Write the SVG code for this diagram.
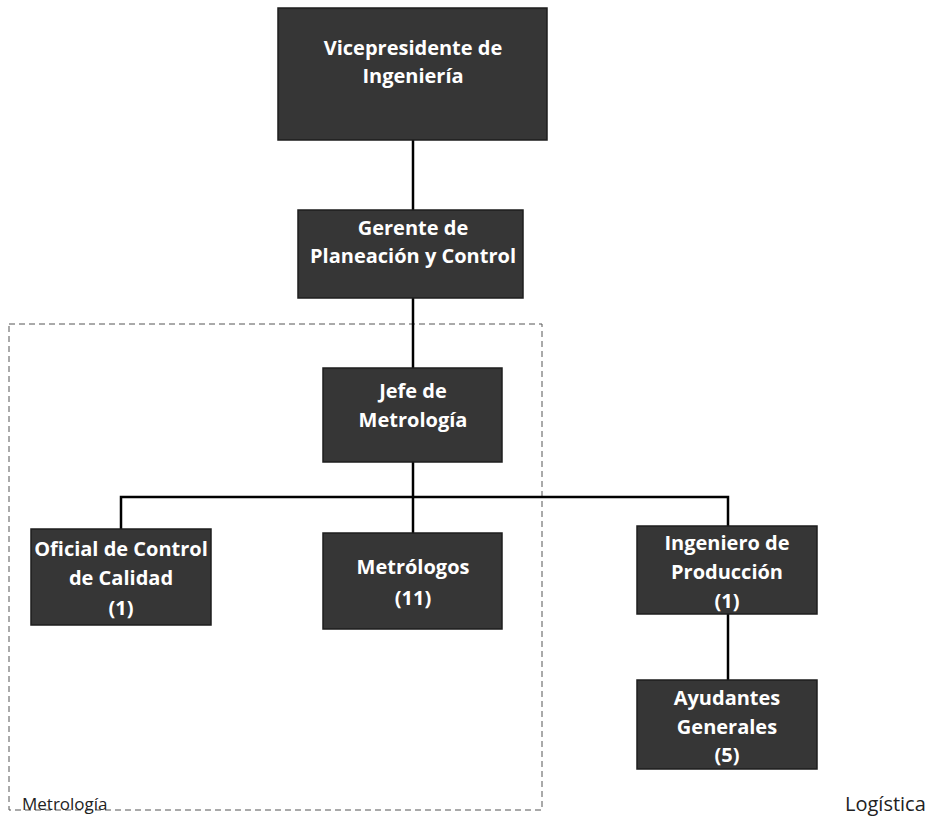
<svg xmlns="http://www.w3.org/2000/svg" width="930" height="816" viewBox="0 0 930 816">
<style>
.box{fill:#363636;stroke:#1e1e1e;stroke-width:1.5}
.t{font-family:"Open Sans","Liberation Sans",sans-serif;font-weight:bold;font-size:20px;fill:#fff;text-anchor:middle}
.c{stroke:#000;stroke-width:2.5;fill:none}
.lbl{font-family:"Open Sans","Liberation Sans",sans-serif;font-size:17px;fill:#222}
</style>
<rect width="930" height="816" fill="#fff"/>
<g id="region-metrologia">
<rect x="9" y="324" width="533" height="486" fill="none" stroke="#555" stroke-width="1" stroke-dasharray="6,4"/>
<text class="lbl" x="22" y="810">Metrología</text>
</g>
<g id="region-logistica">
<text class="lbl" x="845" y="811" style="font-size:20px">Logística</text>
</g>
<g id="connectors">
<line class="c" x1="413" y1="140" x2="413" y2="210"/>
<line class="c" x1="413" y1="298" x2="413" y2="368"/>
<line class="c" x1="413" y1="462" x2="413" y2="533"/>
<polyline class="c" points="121,529 121,497 728,497 728,526"/>
<line class="c" x1="728" y1="614" x2="728" y2="680"/>
</g>
<g id="vicepresidente">
<rect class="box" x="278" y="8" width="269" height="132"/>
<text class="t" x="413" y="55">Vicepresidente de</text>
<text class="t" x="413" y="83">Ingeniería</text>
</g>
<g id="gerente">
<rect class="box" x="298" y="210" width="225" height="88"/>
<text class="t" x="413" y="235">Gerente de</text>
<text class="t" x="413" y="263">Planeación y Control</text>
</g>
<g id="jefe">
<rect class="box" x="323" y="368" width="179" height="94"/>
<text class="t" x="413" y="398">Jefe de</text>
<text class="t" x="413" y="427">Metrología</text>
</g>
<g id="oficial">
<rect class="box" x="31" y="529" width="180" height="96"/>
<text class="t" x="121" y="556">Oficial de Control</text>
<text class="t" x="121" y="585">de Calidad</text>
<text class="t" x="121" y="615">(1)</text>
</g>
<g id="metrologos">
<rect class="box" x="323" y="533" width="179" height="96"/>
<text class="t" x="413" y="574">Metrólogos</text>
<text class="t" x="413" y="605">(11)</text>
</g>
<g id="ingeniero">
<rect class="box" x="637" y="526" width="180" height="88"/>
<text class="t" x="727" y="550">Ingeniero de</text>
<text class="t" x="727" y="579">Producción</text>
<text class="t" x="727" y="608">(1)</text>
</g>
<g id="ayudantes">
<rect class="box" x="637" y="680" width="180" height="89"/>
<text class="t" x="727" y="705">Ayudantes</text>
<text class="t" x="727" y="734">Generales</text>
<text class="t" x="727" y="762">(5)</text>
</g>
</svg>
